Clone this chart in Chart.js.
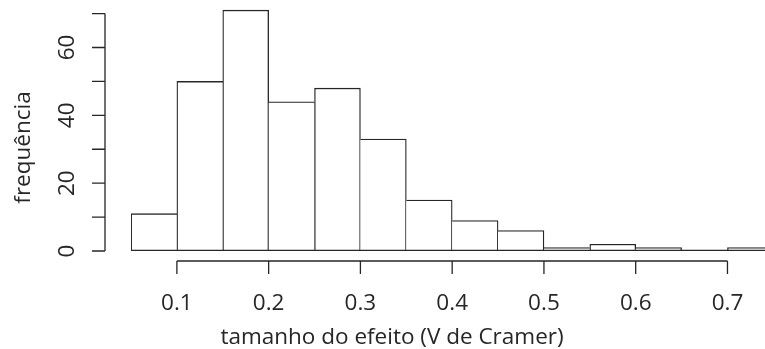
<!DOCTYPE html>
<html>
<head>
<meta charset="utf-8">
<script src="https://cdn.jsdelivr.net/npm/chart.js@4/dist/chart.umd.min.js"></script>
<style>
  html, body { margin: 0; padding: 0; background: #fff; }
  #wrap { width: 765px; height: 349px; position: relative; }
</style>
</head>
<body>
<div id="wrap"><canvas id="c" width="765" height="349"></canvas></div>
<script>
// ---- data ----
const binEdges = [0.05, 0.10, 0.15, 0.20, 0.25, 0.30, 0.35, 0.40, 0.45, 0.50, 0.55, 0.60, 0.65, 0.70, 0.75];
const counts   = [11, 50, 71, 44, 48, 33, 15, 9, 6, 1, 2, 1, 0, 1];
const xTickValues = [0.1, 0.2, 0.3, 0.4, 0.5, 0.6, 0.7];
const xTickLabels = ['0.1', '0.2', '0.3', '0.4', '0.5', '0.6', '0.7'];
const yTickValues = [0, 10, 20, 30, 40, 50, 60, 70];
const yLabelValues = [0, 20, 40, 60];
const yLabelTexts  = ['0', '20', '40', '60'];
const xTitle = 'tamanho do efeito (V de Cramer)';
const yTitle = 'frequência';

const points = counts.map((c, i) => ({ x: (binEdges[i] + binEdges[i + 1]) / 2, y: c }));

const INK = '#262626';
const LW = 1.3;
const FONT = '22.5px "Open Sans", "DejaVu Sans", sans-serif';

// each shared edge is drawn once, by the taller neighbour
function edgeWidths(ctx) {
  const i = ctx.dataIndex;
  const c = counts[i];
  const left = (i === 0 || c >= counts[i - 1]) ? LW : 0;
  const right = (i === counts.length - 1 || c > counts[i + 1]) ? LW : 0;
  return { top: LW, left: left, right: right, bottom: 0 };
}

const rAxes = {
  id: 'rAxes',
  afterDraw(chart) {
    const ctx = chart.ctx;
    const xs = chart.scales.x, ys = chart.scales.y;
    ctx.save();
    ctx.strokeStyle = INK;
    ctx.fillStyle = INK;
    ctx.lineWidth = LW;
    // baseline under all bins (zero-count bins show as a line, like R's hist)
    const y0 = ys.getPixelForValue(0) - 0.6;
    ctx.beginPath();
    ctx.moveTo(xs.getPixelForValue(binEdges[0]), y0);
    ctx.lineTo(xs.getPixelForValue(binEdges[binEdges.length - 1]), y0);
    ctx.stroke();

    // x axis (detached, R style)
    const axY = 261;
    ctx.beginPath();
    ctx.moveTo(xs.getPixelForValue(xTickValues[0]), axY);
    ctx.lineTo(xs.getPixelForValue(xTickValues[xTickValues.length - 1]), axY);
    xTickValues.forEach(v => {
      const px = xs.getPixelForValue(v);
      ctx.moveTo(px, axY);
      ctx.lineTo(px, axY + 13);
    });
    ctx.stroke();
    ctx.font = FONT;
    ctx.textAlign = 'center';
    ctx.textBaseline = 'alphabetic';
    xTickValues.forEach((v, i) => {
      ctx.fillText(xTickLabels[i], xs.getPixelForValue(v), 310);
    });

    // y axis
    const axX = 105;
    ctx.beginPath();
    ctx.moveTo(axX, ys.getPixelForValue(yTickValues[0]));
    ctx.lineTo(axX, ys.getPixelForValue(yTickValues[yTickValues.length - 1]));
    yTickValues.forEach(v => {
      const py = ys.getPixelForValue(v);
      ctx.moveTo(axX, py);
      ctx.lineTo(axX - 13, py);
    });
    ctx.stroke();
    yLabelValues.forEach((v, i) => {
      ctx.save();
      ctx.translate(74, ys.getPixelForValue(v));
      ctx.rotate(-Math.PI / 2);
      ctx.fillText(yLabelTexts[i], 0, 0);
      ctx.restore();
    });

    // titles
    ctx.fillText(xTitle, 392, 344);
    ctx.save();
    ctx.translate(30, 147.5);
    ctx.rotate(-Math.PI / 2);
    ctx.fillText(yTitle, 0, 0);
    ctx.restore();
    ctx.restore();
  }
};

new Chart(document.getElementById('c'), {
  type: 'bar',
  data: {
    datasets: [{
      data: points,
      backgroundColor: '#ffffff',
      borderColor: INK,
      borderWidth: edgeWidths,
      borderSkipped: false,
      barPercentage: 1,
      categoryPercentage: 1
    }]
  },
  options: {
    responsive: false,
    animation: false,
    devicePixelRatio: 1,
    layout: { padding: { left: 131, right: 0, top: 0, bottom: 98 } },
    plugins: { legend: { display: false }, tooltip: { enabled: false } },
    scales: {
      x: {
        type: 'linear',
        display: false,
        offset: false,
        min: 0.05,
        max: 0.7409,
        afterBuildTicks: s => { s.ticks = xTickValues.map(v => ({ value: v })); }
      },
      y: {
        type: 'linear',
        display: false,
        min: 0,
        max: 74,
        afterBuildTicks: s => { s.ticks = yTickValues.map(v => ({ value: v })); }
      }
    }
  },
  plugins: [rAxes]
});
</script>
</body>
</html>
